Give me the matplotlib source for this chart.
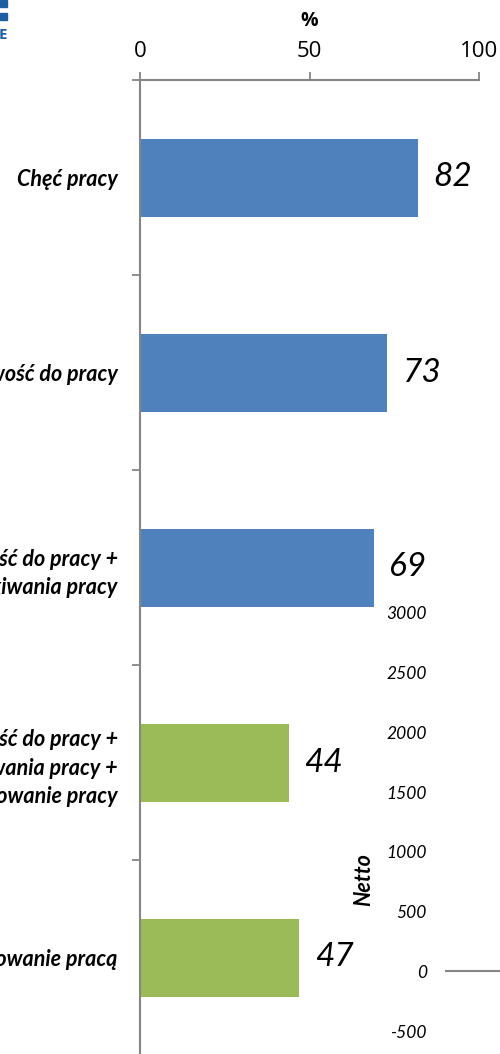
import matplotlib
matplotlib.use("Agg")
import matplotlib.pyplot as plt
from matplotlib.patches import Rectangle

categories = [
    "Chęć pracy",
    "Gotowość do pracy",
    "Gotowość do pracy +\nposzukiwania pracy",
    "Gotowość do pracy +\nposzukiwania pracy +\npodejmowanie pracy",
    "Zainteresowanie pracą",
]
values = [82, 73, 69, 44, 47]
bar_colors = ["#4F81BD", "#4F81BD", "#4F81BD", "#9BBB59", "#9BBB59"]
x_ticks = [0, 50, 100]
netto_ticks = [3000, 2500, 2000, 1500, 1000, 500, 0, -500]

W, H = 500, 1054
fig = plt.figure(figsize=(W / 100, H / 100), dpi=100)
FONT = "Lato"
spine_c = "#868686"

def fx(px):
    return px / W

def fy(py):
    return 1 - py / H

# main axes
left, right, top, bottom = 140, 479, 80, 1055
ax = fig.add_axes([fx(left), fy(bottom), fx(right - left), fy(top) - fy(bottom)])
ypos = list(range(len(categories)))
ax.barh(ypos, values, height=0.4, color=bar_colors, zorder=2)
ax.set_xlim(0, 100)
ax.set_ylim(len(categories) - 0.5, -0.5)

ax.xaxis.tick_top()
ax.set_xticks(x_ticks)
ax.set_xticklabels([str(t) for t in x_ticks], fontsize=16, family="Open Sans")
ax.tick_params(axis="x", direction="out", length=6, width=1.3, color=spine_c, pad=7)
ax.xaxis.set_label_position("top")
ax.set_xlabel("%", fontsize=14, fontweight="bold", family="Open Sans", labelpad=11)

ax.set_yticks(ypos)
ax.set_yticklabels(categories, fontsize=15.5, fontweight="bold", fontstyle="italic",
                   family=FONT, linespacing=1.42)
ax.tick_params(axis="y", which="major", length=0, pad=16)
ax.set_yticks([i - 0.5 for i in range(len(categories) + 1)], minor=True)
ax.tick_params(axis="y", which="minor", direction="out", length=6, width=1.3, color=spine_c)

for s in ["right", "bottom"]:
    ax.spines[s].set_visible(False)
for s in ["left", "top"]:
    ax.spines[s].set_color(spine_c)
    ax.spines[s].set_linewidth(1.5)

for y, v in zip(ypos, values):
    ax.annotate(str(v), xy=(v, y), xytext=(11, 0), textcoords="offset points",
                ha="left", va="center", fontsize=24, fontstyle="italic", family=FONT)

# secondary (netto) axes, partially visible
ax2 = fig.add_axes([fx(445), fy(1031), fx(200), fy(613) - fy(1031)])
ax2.set_ylim(-500, 3000)
ax2.set_xlim(0, 1)
ax2.patch.set_visible(False)
for s in ax2.spines.values():
    s.set_visible(False)
ax2.set_xticks([])
ax2.set_yticks(netto_ticks)
ax2.set_yticklabels([str(t) for t in netto_ticks], fontsize=12.5, fontstyle="italic", family=FONT)
ax2.tick_params(axis="y", length=0, pad=13)
ax2.axhline(0, color=spine_c, lw=1.5)
fig.text(fx(364), fy(880), "Netto", rotation=90, ha="center", va="center",
         fontsize=15.5, fontweight="bold", fontstyle="italic", family=FONT)

# partial logo
logo_c = "#1F5DA3"
fig.patches.append(Rectangle((0, fy(7)), fx(7), fy(0) - fy(7), transform=fig.transFigure, color=logo_c))
fig.patches.append(Rectangle((0, fy(20)), fx(7), fy(13) - fy(20), transform=fig.transFigure, color=logo_c))
fig.text(fx(-1), fy(35), "E", fontsize=11, fontweight="bold", color=logo_c, va="center", ha="left", family="Open Sans")

fig.savefig("out.png", dpi=100)
